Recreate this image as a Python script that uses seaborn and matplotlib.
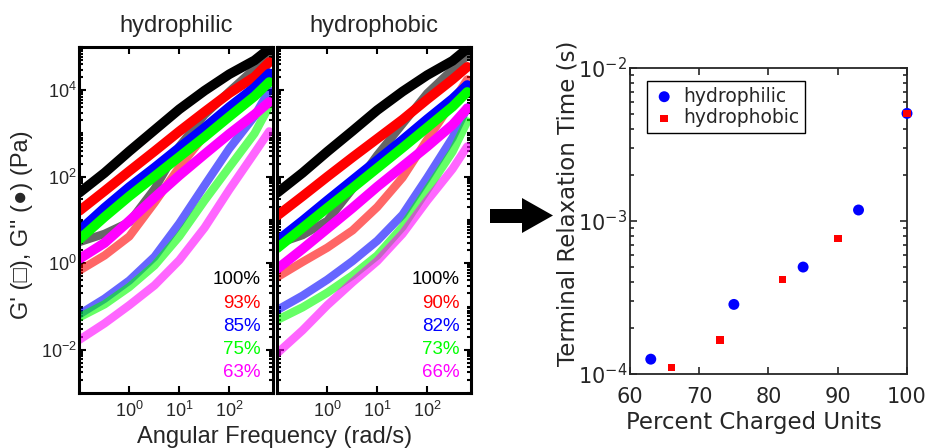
import numpy as np
import pandas as pd
import matplotlib
matplotlib.use('Agg')
import matplotlib.pyplot as plt
from matplotlib.patches import Polygon
from matplotlib.ticker import LogLocator, NullLocator, NullFormatter
import seaborn as sns

freq = [0.1, 0.32, 1, 3.2, 10, 32, 100, 320, 630]

colors = ['#000000', '#FF0000', '#0000FF', '#00FF00', '#FF00FF']
phil_labels = ['100%', '93%', '85%', '75%', '63%']
phob_labels = ['100%', '90%', '82%', '73%', '66%']

# log10 of moduli (Pa), one list per composition
phil_Gpp = [[1.63, 2.09, 2.59, 3.08, 3.56, 3.99, 4.37, 4.69, 4.96],
            [1.21, 1.67, 2.13, 2.59, 3.05, 3.50, 3.93, 4.31, 4.65],
            [0.75, 1.28, 1.76, 2.21, 2.67, 3.13, 3.61, 4.06, 4.39],
            [0.55, 1.07, 1.55, 2.01, 2.46, 2.92, 3.39, 3.86, 4.19],
            [0.10, 0.47, 0.98, 1.52, 2.03, 2.52, 2.99, 3.44, 3.73]]
phil_Gp = [[0.49, 0.68, 0.95, 1.72, 2.70, 3.43, 3.97, 4.50, 4.84],
           [-0.17, 0.18, 0.62, 1.40, 2.22, 2.95, 3.55, 4.02, 4.30],
           [-1.18, -0.82, -0.40, 0.15, 0.92, 1.80, 2.65, 3.40, 4.00],
           [-1.25, -0.95, -0.55, -0.05, 0.62, 1.45, 2.22, 3.00, 3.63],
           [-1.77, -1.39, -0.97, -0.51, 0.07, 0.82, 1.70, 2.55, 3.05]]
phob_Gpp = [[1.63, 2.09, 2.58, 3.06, 3.54, 3.97, 4.35, 4.68, 4.96],
            [1.10, 1.55, 2.00, 2.45, 2.88, 3.32, 3.79, 4.25, 4.54],
            [0.52, 0.98, 1.45, 1.92, 2.38, 2.85, 3.33, 3.80, 4.12],
            [0.35, 0.82, 1.28, 1.74, 2.20, 2.67, 3.14, 3.62, 3.96],
            [-0.13, 0.33, 0.80, 1.28, 1.77, 2.24, 2.70, 3.20, 3.58]]
phob_Gp = [[0.45, 0.65, 0.98, 1.72, 2.50, 3.22, 3.93, 4.48, 4.80],
           [-0.32, 0.03, 0.36, 0.76, 1.30, 1.98, 2.86, 3.72, 4.25],
           [-1.08, -0.75, -0.38, 0.05, 0.52, 1.12, 1.98, 2.90, 3.60],
           [-1.31, -1.02, -0.68, -0.28, 0.18, 0.84, 1.70, 2.58, 3.28],
           [-2.08, -1.55, -0.97, -0.44, 0.05, 0.68, 1.45, 2.18, 2.70]]

# terminal relaxation time vs charged fraction
pct_phil = [63, 75, 85, 93, 100]
tau_phil = [1.25e-4, 2.85e-4, 5.0e-4, 1.18e-3, 5.05e-3]
pct_phob = [66, 73, 82, 90, 100]
tau_phob = [1.1e-4, 1.67e-4, 4.15e-4, 7.7e-4, 5.05e-3]

sns.set_style('ticks')
plt.rcParams['font.family'] = ['Liberation Sans', 'DejaVu Sans']
plt.rcParams['mathtext.default'] = 'regular'

W, H = 929, 448
fig = plt.figure(figsize=(W / 100, H / 100), dpi=100)
ax1 = fig.add_axes([79.3 / W, 55 / H, 193.7 / W, 346 / H])
ax2 = fig.add_axes([277.3 / W, 55 / H, 193.7 / W, 346 / H])
ax3 = fig.add_axes([630 / W, 74 / H, 277 / W, 306 / H])


def rheo_frame(labels, gp, gpp):
    rows = []
    for lab, a, b in zip(labels, gp, gpp):
        for w, x, y in zip(freq, a, b):
            rows.append((lab, w, 10 ** x, 10 ** y))
    return pd.DataFrame(rows, columns=['sample', 'w', 'Gp', 'Gpp'])


panels = [(ax1, 'hydrophilic', phil_labels, phil_Gp, phil_Gpp, 0.937),
          (ax2, 'hydrophobic', phob_labels, phob_Gp, phob_Gpp, 0.943)]
label_y = [0.327, 0.260, 0.193, 0.126, 0.058]

for ax, title, labels, gp, gpp, xr in panels:
    df = rheo_frame(labels, gp, gpp)
    for lab, c in zip(labels, colors):
        d = df[df['sample'] == lab]
        sns.lineplot(data=d, x='w', y='Gp', color=c, lw=6, alpha=0.6,
                     solid_capstyle='round', solid_joinstyle='round',
                     errorbar=None, ax=ax)
        sns.lineplot(data=d, x='w', y='Gpp', color=c, lw=7,
                     solid_capstyle='round', solid_joinstyle='round',
                     errorbar=None, ax=ax)
    ax.set_xscale('log')
    ax.set_yscale('log')
    ax.set_xlim(0.1, 750)
    ax.set_ylim(1e-3, 1e5)
    ax.set_xlabel('')
    ax.set_ylabel('')
    ax.set_xticks([1, 10, 100])
    ax.set_xticklabels([r'$\mathregular{10^{0}}$', r'$\mathregular{10^{1}}$',
                        r'$\mathregular{10^{2}}$'])
    ax.xaxis.set_minor_locator(NullLocator())
    ax.set_yticks([1e-2, 1, 1e2, 1e4])
    ax.yaxis.set_minor_locator(LogLocator(base=10, subs=np.arange(1, 10), numticks=30))
    ax.yaxis.set_minor_formatter(NullFormatter())
    ax.tick_params(which='both', direction='in', top=True, right=True,
                   width=1.5, labelsize=13, color='black')
    ax.tick_params(which='major', length=5)
    ax.tick_params(which='minor', length=3)
    ax.tick_params(axis='x', pad=6)
    ax.tick_params(axis='y', pad=2)
    for s in ax.spines.values():
        s.set_linewidth(2.2)
        s.set_color('black')
    ax.set_title(title, fontsize=17, pad=11)
    for lab, c, yy in zip(labels, colors, label_y):
        ax.text(xr, yy, lab, color=c, fontsize=13.5, ha='right', va='center',
                transform=ax.transAxes)

ax1.set_yticklabels([r'$\mathregular{10^{-2}}$', r'$\mathregular{10^{0}}$',
                     r'$\mathregular{10^{2}}$', r'$\mathregular{10^{4}}$'])
ax2.set_yticklabels([])

fig.text(22 / W, 1 - 225 / H, "G' (\u25a1), G'' (\u25cf) (Pa)", rotation=90,
         ha='center', va='center', fontsize=17)
fig.text(275 / W, 1 - 437 / H, 'Angular Frequency (rad/s)',
         ha='center', va='center', fontsize=17)

# right panel
dark = '#262626'
sns.scatterplot(x=pct_phil, y=tau_phil, marker='o', s=62, color='#0000FF',
                edgecolor='none', label='hydrophilic', clip_on=False, zorder=3, ax=ax3)
sns.scatterplot(x=pct_phob, y=tau_phob, marker='s', s=30, color='#FF0000',
                edgecolor='none', label='hydrophobic', clip_on=False, zorder=4, ax=ax3)
ax3.set_yscale('log')
ax3.set_xlim(60, 100)
ax3.set_ylim(1e-4, 1e-2)
ax3.set_xticks([60, 70, 80, 90, 100])
ax3.set_yticks([1e-4, 1e-3, 1e-2])
ax3.set_yticklabels([r'$\mathregular{10^{-4}}$', r'$\mathregular{10^{-3}}$',
                     r'$\mathregular{10^{-2}}$'])
ax3.yaxis.set_minor_locator(LogLocator(base=10, subs=np.arange(2, 10), numticks=30))
ax3.yaxis.set_minor_formatter(NullFormatter())
ax3.tick_params(which='both', direction='in', top=True, right=True,
                width=1.2, color=dark, labelcolor=dark, labelsize=15)
ax3.tick_params(which='major', length=5)
ax3.tick_params(which='minor', length=3)
ax3.tick_params(axis='x', pad=9)
ax3.tick_params(axis='y', pad=2)
for lbl in ax3.get_xticklabels() + ax3.get_yticklabels():
    lbl.set_family('DejaVu Sans')
for s in ax3.spines.values():
    s.set_linewidth(1.3)
    s.set_color(dark)
ax3.set_xlabel('')
ax3.set_ylabel('')
leg = ax3.legend(loc='upper left', bbox_to_anchor=(0.0625, 0.9575), borderaxespad=0,
                 frameon=True, fancybox=False, edgecolor='black', framealpha=1,
                 prop={'family': 'DejaVu Sans', 'size': 13.5}, handletextpad=0.4,
                 borderpad=0.3, labelspacing=0.15, handlelength=1.2)
leg.get_frame().set_linewidth(1.0)
for t in leg.get_texts():
    t.set_color(dark)

fig.text(754 / W, 1 - 422 / H, 'Percent Charged Units', ha='center', va='center',
         fontsize=16.5, color=dark, family='DejaVu Sans')
fig.text(568 / W, 1 - 203 / H, 'Terminal Relaxation Time (s)', rotation=90,
         ha='center', va='center', fontsize=16.5, color=dark, family='DejaVu Sans')

# block arrow between the panels
arrow_px = [(490, 209), (522, 209), (522, 198), (553, 215.5), (522, 233),
            (522, 223), (490, 223)]
fig.patches.append(Polygon([(x / W, 1 - y / H) for x, y in arrow_px], closed=True,
                           facecolor='black', edgecolor='none',
                           transform=fig.transFigure, figure=fig))

fig.savefig('out.png', dpi=100)
